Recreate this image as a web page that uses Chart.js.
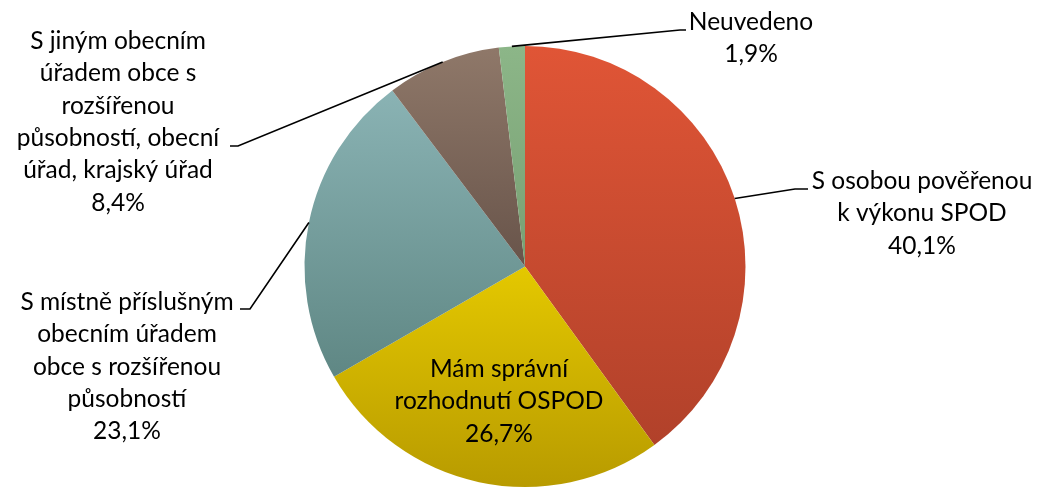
<!DOCTYPE html>
<html>
<head>
<meta charset="utf-8">
<script src="https://cdn.jsdelivr.net/npm/chart.js@4"></script>
<style>
  html, body { margin: 0; padding: 0; background: #fff; }
  #wrap { width: 1041px; height: 489px; }
</style>
</head>
<body>
<div id="wrap"><canvas id="myChart" width="1041" height="489"></canvas></div>
<script>
// data
const categories = [
    ['S osobou pověřenou', 'k výkonu SPOD'],
    ['Mám správní', 'rozhodnutí OSPOD'],
    ['S místně příslušným', 'obecním úřadem', 'obce s rozšířenou', 'působností'],
    ['S jiným obecním', 'úřadem obce s', 'rozšířenou', 'působností, obecní', 'úřad, krajský úřad'],
    ['Neuvedeno'],
];
const shares = [40.1, 26.7, 23.1, 8.4, 1.9];
const topColors = ['#e05536', '#e4c800', '#8ab3b4', '#8f7869', '#8cb688'];
const bottomColors = ['#b1412a', '#b89b00', '#5f8784', '#68544a', '#78a073'];

// label placement (baseline of first line, centre x, leader elbow + end)
const labelLayout = [
    { x: 922, y: 189, elbow: [795, 189], end: [808, 189] },
    { x: 499, y: 377, inside: true },
    { x: 127, y: 310, elbow: [250, 309], end: [240, 309] },
    { x: 118, y: 49, elbow: [238, 146], end: [230, 146] },
    { x: 751, y: 30, elbow: [680, 30], end: [686, 30] },
];
const lineHeight = 32.3;
const labelFont = '24.5px Lato';

function sliceGradient(ctx) {
    const chart = ctx.chart;
    const area = chart.chartArea;
    const i = ctx.dataIndex;
    if (!area) return topColors[i];
    const cx = (area.left + area.right) / 2;
    const cy = (area.top + area.bottom) / 2;
    const r = Math.min(area.right - area.left, area.bottom - area.top) / 2;
    const total = shares.reduce((a, b) => a + b, 0);
    let cum = 0;
    for (let k = 0; k < i; k++) cum += shares[k];
    const a0 = -Math.PI / 2 + 2 * Math.PI * cum / total;
    const a1 = a0 + 2 * Math.PI * shares[i] / total;
    let ys = [cy, cy + r * Math.sin(a0), cy + r * Math.sin(a1)];
    // top / bottom of the circle if the slice covers them
    [-Math.PI / 2, Math.PI / 2, 3 * Math.PI / 2].forEach(a => {
        if (a >= a0 && a <= a1) ys.push(cy + r * Math.sin(a));
    });
    const y0 = Math.min(...ys), y1 = Math.max(...ys);
    const g = chart.ctx.createLinearGradient(0, y0, 0, y1);
    g.addColorStop(0, topColors[i]);
    g.addColorStop(1, bottomColors[i]);
    return g;
}

const labelPlugin = {
    id: 'pieLabels',
    afterDatasetsDraw(chart) {
        const ctx = chart.ctx;
        const meta = chart.getDatasetMeta(0);
        ctx.save();
        ctx.font = labelFont;
        ctx.fillStyle = '#000';
        ctx.textAlign = 'center';
        ctx.textBaseline = 'alphabetic';
        meta.data.forEach((arc, i) => {
            const lay = labelLayout[i];
            const lines = categories[i].concat([shares[i].toFixed(1).replace('.', ',') + '%']);
            if (!lay.inside) {
                const mid = (arc.startAngle + arc.endAngle) / 2;
                const sx = arc.x + arc.outerRadius * Math.cos(mid);
                const sy = arc.y + arc.outerRadius * Math.sin(mid);
                ctx.beginPath();
                ctx.strokeStyle = '#000';
                ctx.lineWidth = 1.6;
                ctx.moveTo(sx, sy);
                ctx.lineTo(lay.elbow[0], lay.elbow[1]);
                ctx.lineTo(lay.end[0], lay.end[1]);
                ctx.stroke();
            }
            lines.forEach((t, j) => ctx.fillText(t, lay.x, lay.y + j * lineHeight));
        });
        ctx.restore();
    }
};

new Chart(document.getElementById('myChart'), {
    type: 'pie',
    data: {
        labels: categories,
        datasets: [{
            data: shares,
            backgroundColor: sliceGradient,
            borderWidth: 0,
        }],
    },
    options: {
        responsive: false,
        animation: false,
        layout: { padding: { top: 46, bottom: 2, left: 300, right: 291 } },
        plugins: {
            legend: { display: false },
            tooltip: { enabled: false },
        },
    },
    plugins: [labelPlugin],
});
</script>
</body>
</html>
